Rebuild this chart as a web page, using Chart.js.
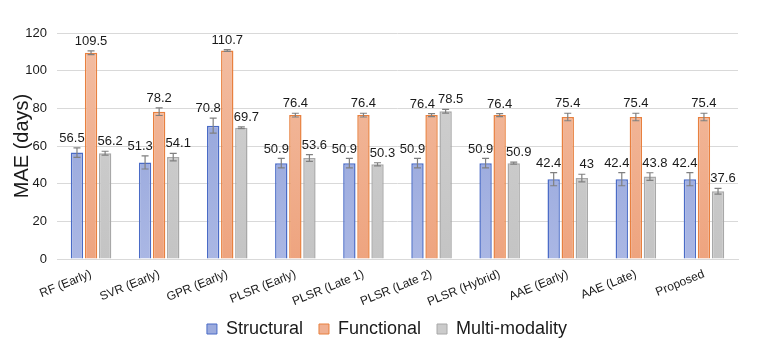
<!DOCTYPE html>
<html>
<head>
<meta charset="utf-8">
<script src="https://cdn.jsdelivr.net/npm/chart.js@4.4.1/dist/chart.umd.min.js"></script>
<style>
  html, body { margin: 0; padding: 0; background: #ffffff; }
  #wrap { width: 764px; height: 341px; position: relative; }
</style>
</head>
<body>
<div id="wrap"><canvas id="c" width="764" height="341"></canvas></div>
<script>
const categories = ['RF (Early)', 'SVR (Early)', 'GPR (Early)', 'PLSR (Early)', 'PLSR (Late 1)', 'PLSR (Late 2)', 'PLSR (Hybrid)', 'AAE (Early)', 'AAE (Late)', 'Proposed'];
const seriesNames = ['Structural', 'Functional', 'Multi-modality'];
const structural = [56.5, 51.3, 70.8, 50.9, 50.9, 50.9, 50.9, 42.4, 42.4, 42.4];
const functional = [109.5, 78.2, 110.7, 76.4, 76.4, 76.4, 76.4, 75.4, 75.4, 75.4];
const multimodality = [56.2, 54.1, 69.7, 53.6, 50.3, 78.5, 50.9, 43, 43.8, 36];
const structuralLabels = ['56.5', '51.3', '70.8', '50.9', '50.9', '50.9', '50.9', '42.4', '42.4', '42.4'];
const functionalLabels = ['109.5', '78.2', '110.7', '76.4', '76.4', '76.4', '76.4', '75.4', '75.4', '75.4'];
const multimodalityLabels = ['56.2', '54.1', '69.7', '53.6', '50.3', '78.5', '50.9', '43', '43.8', '37.6'];
const structuralErr = [2.5, 3.5, 4, 2.5, 2.5, 2.5, 2.5, 3.5, 3.5, 3.5];
const functionalErr = [1, 2, 0.5, 1, 1, 0.8, 0.8, 2, 2, 2];
const multimodalityErr = [1, 2, 0.5, 1.8, 0.8, 1, 0.5, 2, 2, 1.5];
const yTicks = [0, 20, 40, 60, 80, 100, 120];

const FONT = "'Liberation Sans', Arial, Helvetica, sans-serif";
const LEGEND_PAD = 16;
const LEGEND_FONT = 18;

function grad(ctx, top, bottom, fallback) {
  const chart = ctx.chart;
  const area = chart.chartArea;
  if (!area) return fallback;
  const g = chart.ctx.createLinearGradient(0, area.top, 0, area.bottom);
  g.addColorStop(0, top);
  g.addColorStop(1, bottom);
  return g;
}

const errPlugin = {
  id: 'errAndLabels',
  afterLayout(chart) {
    const lg = chart.legend;
    if (lg) {
      const h = lg.height;
      lg.top = 329 - LEGEND_PAD - LEGEND_FONT / 2;
      lg.bottom = lg.top + h;
      lg.left += 18;
      lg.right += 18;
    }
  },
  afterDatasetsDraw(chart) {
    const c = chart.ctx;
    const y = chart.scales.y;
    const errs = [structuralErr, functionalErr, multimodalityErr];
    const labels = [structuralLabels, functionalLabels, multimodalityLabels];
    const baseDx = [-5, 0, 5];
    c.save();
    c.font = '13px ' + FONT;
    const n = chart.data.labels.length;
    for (let i = 0; i < n; i++) {
      const items = chart.data.datasets.map((ds, di) => {
        const bar = chart.getDatasetMeta(di).data[i];
        const v = ds.data[i];
        const e = errs[di][i];
        const yTop = y.getPixelForValue(v + e);
        const yBot = y.getPixelForValue(v - e);
        const w = c.measureText(labels[di][i]).width;
        return { x: bar.x, yTop, yBot, w, text: labels[di][i], cx: bar.x + baseDx[di] };
      });
      for (let k = 0; k < items.length - 1; k++) {
        const a = items[k], b = items[k + 1];
        if (Math.abs(a.yTop - b.yTop) < 14) {
          const overlap = (a.cx + a.w / 2) - (b.cx - b.w / 2) + 3;
          if (overlap > 0) a.cx -= overlap;
        }
      }
      items.forEach((it) => {
        c.strokeStyle = '#808080';
        c.lineWidth = 1.2;
        c.beginPath();
        c.moveTo(it.x, it.yTop); c.lineTo(it.x, it.yBot);
        c.moveTo(it.x - 3.5, it.yTop); c.lineTo(it.x + 3.5, it.yTop);
        c.moveTo(it.x - 3.5, it.yBot); c.lineTo(it.x + 3.5, it.yBot);
        c.stroke();
        c.fillStyle = '#1a1a1a';
        c.textAlign = 'center';
        c.textBaseline = 'bottom';
        c.fillText(it.text, it.cx, it.yTop - 3);
      });
    }
    c.restore();
  }
};

new Chart(document.getElementById('c'), {
  type: 'bar',
  data: {
    labels: categories,
    datasets: [
      {
        label: seriesNames[0],
        data: structural,
        backgroundColor: (ctx) => grad(ctx, '#8e9fd8', '#aab7e4', '#9cabdd'),
        borderColor: '#4a6bc6',
        borderWidth: 1.5,
        borderSkipped: 'bottom'
      },
      {
        label: seriesNames[1],
        data: functional,
        backgroundColor: (ctx) => grad(ctx, '#f3bea3', '#eea47f', '#f0b092'),
        borderColor: '#e8803f',
        borderWidth: 1.5,
        borderSkipped: 'bottom'
      },
      {
        label: seriesNames[2],
        data: multimodality,
        backgroundColor: (ctx) => grad(ctx, '#d2d2d2', '#c4c4c4', '#cbcbcb'),
        borderColor: '#a8a8a8',
        borderWidth: 1.5,
        borderSkipped: 'bottom'
      }
    ]
  },
  options: {
    responsive: false,
    animation: false,
    devicePixelRatio: 1,
    layout: { padding: { top: 33, right: 26, left: 0, bottom: -16 } },
    datasets: { bar: { categoryPercentage: 0.62, barPercentage: 0.88 } },
    plugins: {
      legend: {
        position: 'bottom',
        labels: {
          font: { family: FONT, size: LEGEND_FONT },
          color: '#1a1a1a',
          boxWidth: 10,
          boxHeight: 10,
          padding: LEGEND_PAD,
          generateLabels(chart) {
            const cols = [['#9cabdd', '#4a6bc6'], ['#f0b092', '#e8803f'], ['#cbcbcb', '#a8a8a8']];
            return chart.data.datasets.map((ds, i) => ({
              text: ds.label,
              fillStyle: cols[i][0],
              strokeStyle: cols[i][1],
              lineWidth: 1,
              datasetIndex: i,
              hidden: false,
              fontColor: '#1a1a1a'
            }));
          }
        }
      },
      tooltip: { enabled: false }
    },
    scales: {
      x: {
        grid: { display: false, drawTicks: false },
        border: { display: true, color: '#d9d9d9', width: 1 },
        ticks: {
          color: '#1a1a1a',
          font: { family: FONT, size: 12 },
          minRotation: 22,
          maxRotation: 22,
          padding: 8
        },
        afterFit(scale) {
          scale.height = 54;
        }
      },
      y: {
        min: 0,
        max: 120,
        afterBuildTicks(scale) { scale.ticks = yTicks.map(v => ({ value: v })); },
        afterFit(scale) { scale.width = 57; },
        grid: { color: '#d9d9d9', lineWidth: 1, drawTicks: false },
        border: { display: false },
        ticks: {
          color: '#1a1a1a',
          font: { family: FONT, size: 13 },
          padding: 10
        },
        title: {
          display: true,
          text: 'MAE (days)',
          color: '#1a1a1a',
          font: { family: FONT, size: 20 },
          padding: { top: 10, bottom: 0 }
        }
      }
    }
  },
  plugins: [errPlugin]
});
</script>
</body>
</html>
